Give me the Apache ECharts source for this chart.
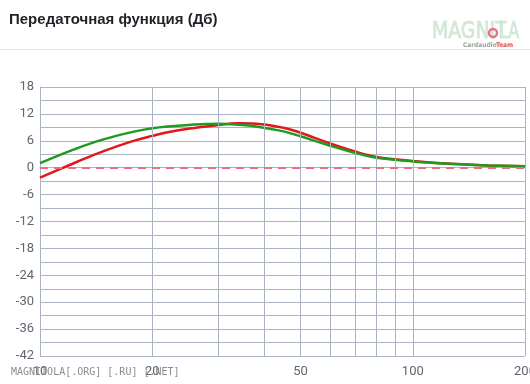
<!DOCTYPE html>
<html><head><meta charset="utf-8">
<script src="https://cdn.jsdelivr.net/npm/echarts@6/dist/echarts.min.js"></script>
<style>html,body{margin:0;padding:0;background:#fff}#c{width:530px;height:384px}</style>
</head><body><div id="c"></div>
<script>
var freqs = [10, 12, 14, 16, 18, 20, 22, 25, 30, 34, 38, 45, 50, 60, 70, 80, 100, 130, 160, 200];
var redValues = [-2.2, 0.6, 2.9, 4.7, 6.1, 7.1, 7.9, 8.7, 9.5, 9.9, 9.8, 8.9, 7.8, 5.4, 3.6, 2.4, 1.5, 0.8, 0.5, 0.3];
var greenValues = [1.0, 3.7, 5.7, 7.1, 8.1, 8.8, 9.2, 9.55, 9.8, 9.6, 9.2, 8.1, 7.0, 4.9, 3.3, 2.2, 1.4, 0.8, 0.5, 0.3];
var xTickLabels = [10, 20, 50, 100, 200];
var xGridLines = [20, 30, 40, 50, 60, 70, 80, 90, 100, 200];
var yMin = -42, yMax = 18, yStep = 3, yLabelStep = 6;
var titleText = 'Передаточная функция (Дб)';
var watermarkText = 'MAGNITOLA[.ORG] [.RU] [.NET]';

function pairs(xs, ys){ return xs.map(function(x,i){ return [x, ys[i]]; }); }
var gridColor = '#aab4c3';
var chart = echarts.init(document.getElementById('c'));
chart.setOption({
  animation: false,
  grid: { left: 40, right: 5, top: 87, bottom: 28, containLabel: false, outerBoundsMode: 'none' },
  graphic: [
    { type: 'text', left: 9, top: 12, style: { text: titleText, font: 'bold 15px "Liberation Sans", Arial, sans-serif', fill: '#1f2328' } },
    { type: 'rect', shape: { x: 0, y: 49, width: 530, height: 1 }, style: { fill: '#e6e6e6' } },
    { type: 'text', x: 432, y: 21, scaleX: 0.82, style: { text: 'MAGNIT', font: '23px "DejaVu Sans"', fill: '#d3e8d8', stroke: '#bcdcc5', lineWidth: 0.6 } },
    { type: 'circle', shape: { cx: 493, cy: 33, r: 4 }, style: { fill: 'none', stroke: '#e2787f', lineWidth: 2.5 } },
    { type: 'text', x: 499, y: 21, scaleX: 0.7, style: { text: 'LA', font: '23px "DejaVu Sans"', fill: '#d3e8d8', stroke: '#bcdcc5', lineWidth: 0.6 } },
    { type: 'text', x: 463, y: 42, style: { text: 'Cardaudio', font: 'bold 6.5px "DejaVu Sans Condensed", sans-serif', fill: '#9aa39c' } },
    { type: 'text', x: 496, y: 42, style: { text: 'Team', font: 'bold 6.5px "DejaVu Sans Condensed", sans-serif', fill: '#d9534f' } },
    { type: 'text', left: 11, top: 367, style: { text: watermarkText, font: '10px "DejaVu Sans Mono", monospace', fill: '#8c8c8c' }, z: 100 }
  ],
  xAxis: {
    type: 'log', logBase: 10, min: 10, max: 200,
    axisLine: { show: true, lineStyle: { color: gridColor } },
    axisTick: { show: false },
    splitLine: { show: false },
    axisLabel: { customValues: xTickLabels, color: '#5f6670', fontSize: 13, margin: 9, fontFamily: 'Roboto, sans-serif', showMaxLabel: true }
  },
  yAxis: {
    type: 'value', min: yMin, max: yMax, interval: yStep,
    axisLine: { show: true, lineStyle: { color: gridColor } },
    axisTick: { show: false },
    splitLine: { show: true, lineStyle: { color: gridColor, width: 1 } },
    axisLabel: { color: '#5f6670', fontSize: 13, margin: 6, fontFamily: 'Roboto, sans-serif',
      formatter: function(v){ return (v % yLabelStep === 0) ? String(v) : ''; } }
  },
  series: [
    { type: 'line', data: [], silent: true,
      markLine: { silent: true, symbol: 'none', label: { show: false },
        lineStyle: { color: gridColor, type: 'solid', width: 1 },
        data: xGridLines.map(function(v){ return { xAxis: v }; }) } },
    { type: 'line', data: [], silent: true,
      markLine: { silent: true, symbol: 'none', label: { show: false },
        lineStyle: { color: '#ee6d82', type: [8, 6], width: 2 },
        data: [{ yAxis: 0 }] } },
    { name: 'green', type: 'line', smooth: 0.4, showSymbol: false, data: pairs(freqs, greenValues),
      lineStyle: { color: '#1e9b1e', width: 2.5 }, itemStyle: { color: '#1e9b1e' }, z: 3 },
    { name: 'red', type: 'line', smooth: 0.4, showSymbol: false, data: pairs(freqs, redValues),
      lineStyle: { color: '#e3161b', width: 2.5 }, itemStyle: { color: '#e3161b' }, z: 2 }
  ]
});
</script></body></html>
